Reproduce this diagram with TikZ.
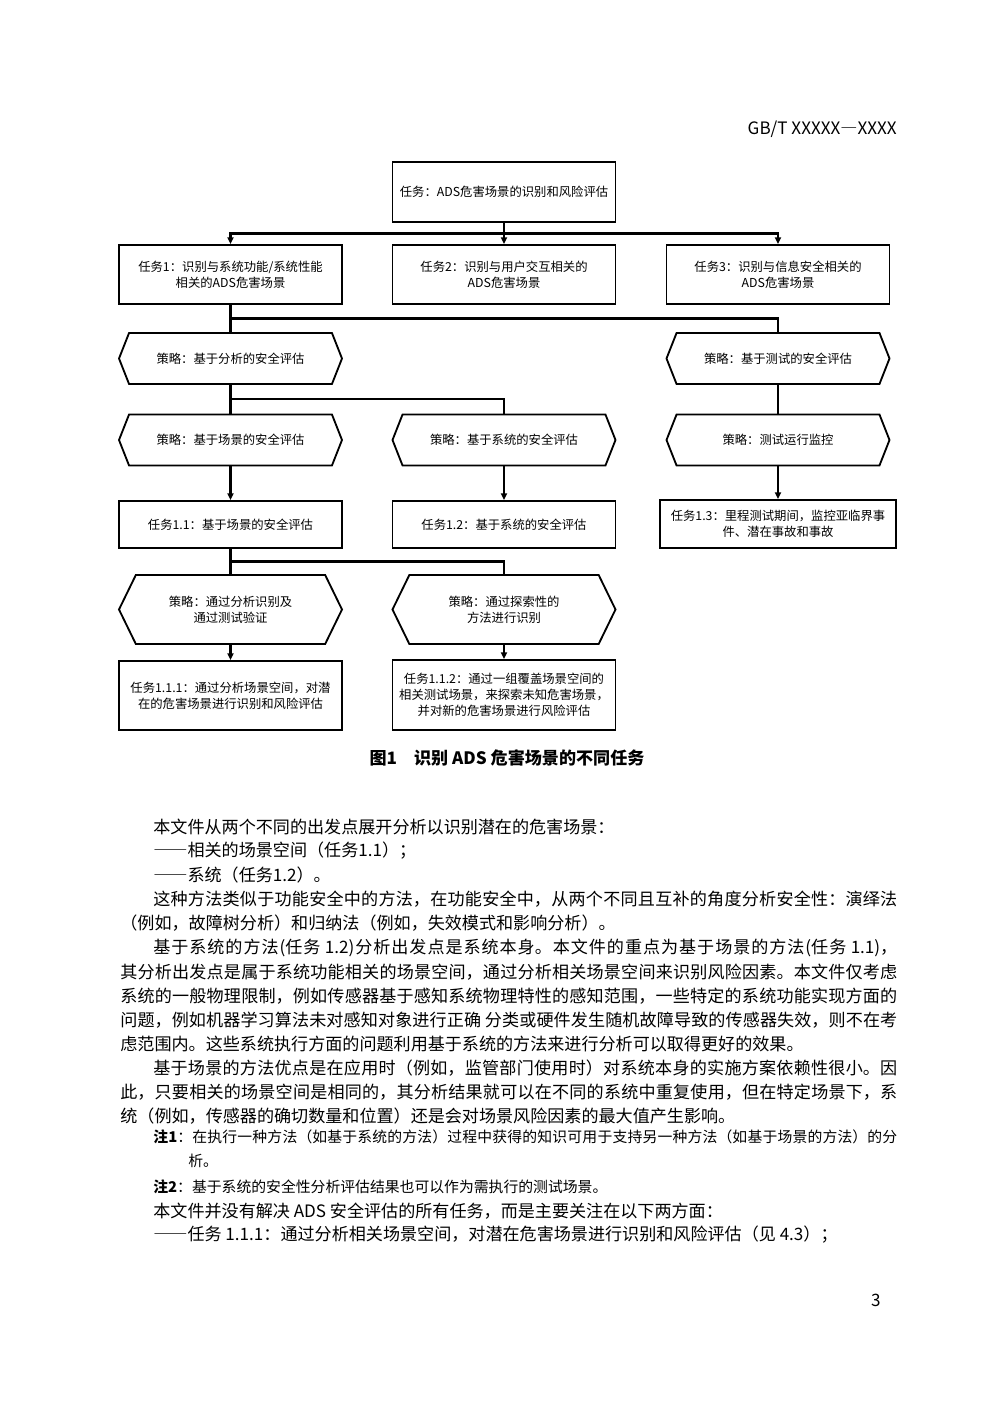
\documentclass[tikz,border=0pt]{standalone}
\usepackage{fontspec}
\setmainfont{Noto Sans CJK SC}
\newfontfamily\fullwidth[CharacterWidth=Full]{Noto Sans CJK SC}
\usetikzlibrary{shapes.symbols,arrows.meta}
\XeTeXlinebreaklocale "zh"
\XeTeXlinebreakskip=0pt plus 2pt minus 0.1pt
\newcommand{\spreadline}[1]{\parfillskip=0pt\relax #1\par}
\newcommand{\dashes}{{\fullwidth ——}}

\begin{document}
\begin{tikzpicture}[x=0.6pt, y=-0.6pt,
    taskbox/.style={draw, line width=1.1pt, minimum width=133.8pt, align=center,
        inner sep=2pt, font=\fontsize{7.4}{9.6}\selectfont},
    strategy/.style={draw, line width=1.1pt, signal, signal to=west and east,
        signal pointer angle=137, minimum width=133.8pt, align=center,
        inner sep=2pt, font=\fontsize{7.4}{9.6}\selectfont},
    link/.style={line width=1.3pt},
    arrowlink/.style={link, -{Triangle[length=4pt,width=3.6pt]}},
    bodytext/.style={anchor=west, inner sep=0pt, font=\fontsize{10.25}{12}\selectfont},
    fullline/.style={bodytext, text width=#1, align=justify},
    notetext/.style={anchor=west, inner sep=0pt, font=\fontsize{8.9}{11}\selectfont},
    fullnote/.style={notetext, text width=#1, align=justify}]

    % page
    \fill[white] (0,0) rectangle (992,1403);
    \useasboundingbox (0,0) rectangle (992,1403);

    % header
    \node[bodytext, anchor=east] (head) at (897,129) {GB/T XXXXX{\fullwidth —}XXXX};

    % Task boxes
    \node[taskbox, minimum height=36pt] (top) at (504,192) {任务：ADS危害场景的识别和风险评估};
    \node[taskbox, minimum height=35.4pt] (t1) at (230.5,274.5) {任务1：识别与系统功能/系统性能\\相关的ADS危害场景};
    \node[taskbox, minimum height=35.4pt] (t2) at (504,274.5) {任务2：识别与用户交互相关的\\ADS危害场景};
    \node[taskbox, minimum height=35.4pt] (t3) at (778,274.5) {任务3：识别与信息安全相关的\\ADS危害场景};

    % Strategies
    \node[strategy, minimum height=30.6pt] (s1) at (230.5,358.5) {策略：基于分析的安全评估};
    \node[strategy, minimum height=30.6pt] (s2) at (778,358.5) {策略：基于测试的安全评估};
    \node[strategy, minimum height=30.6pt] (s11) at (230.5,440) {策略：基于场景的安全评估};
    \node[strategy, minimum height=30.6pt] (s12) at (504,440) {策略：基于系统的安全评估};
    \node[strategy, minimum height=30.6pt] (s13) at (778,440) {策略：测试运行监控};

    % Sub tasks
    \node[taskbox, minimum height=28.2pt] (t11) at (230.5,524.5) {任务1.1：基于场景的安全评估};
    \node[taskbox, minimum height=28.2pt] (t12) at (504,524.5) {任务1.2：基于系统的安全评估};
    \node[taskbox, minimum height=28.8pt, minimum width=141.6pt] (t13) at (778,524) {任务1.3：里程测试期间，监控亚临界事\\件、潜在事故和事故};

    \node[strategy, minimum height=41.4pt, signal pointer angle=128] (s111) at (230.5,609.5) {策略：通过分析识别及\\通过测试验证};
    \node[strategy, minimum height=41.4pt, signal pointer angle=128] (s112) at (504,609.5) {策略：通过探索性的\\方法进行识别};

    \node[taskbox, minimum height=41.4pt] (t111) at (230.5,695.5) {任务1.1.1：通过分析场景空间，对潜\\在的危害场景进行识别和风险评估};
    \node[taskbox, minimum height=42pt] (t112) at (504,695) {任务1.1.2：通过一组覆盖场景空间的\\相关测试场景，来探索未知危害场景，\\并对新的危害场景进行风险评估};

    % Junctions
    \path (top.south) -- (t2.north) coordinate[pos=0.5] (j0);
    \path (t1.south) -- (s1.north) coordinate[pos=0.5] (j1);
    \path (s1.south) -- (s11.north) coordinate[pos=0.5] (j2);
    \path (t11.south) -- (s111.north) coordinate[pos=0.5] (j3);

    % Connectors
    \draw[arrowlink] (top.south) -- (t2.north);
    \draw[arrowlink] (j0) -| (t1.north);
    \draw[arrowlink] (j0) -| (t3.north);
    \draw[link] (t1.south) -- (s1.north);
    \draw[link] (j1) -| (s2.north);
    \draw[link] (s1.south) -- (s11.north);
    \draw[link] (j2) -| (s12.north);
    \draw[link] (s2.south) -- (s13.north);
    \draw[arrowlink] (s11.south) -- (t11.north);
    \draw[arrowlink] (s12.south) -- (t12.north);
    \draw[arrowlink] (s13.south) -- (t13.north);
    \draw[link] (t11.south) -- (s111.north);
    \draw[link] (j3) -| (s112.north);
    \draw[arrowlink] (s111.south) -- (t111.north);
    \draw[arrowlink] (s112.south) -- (t112.north);

    % Caption
    \node[inner sep=0pt, font=\fontsize{10.25}{12}\selectfont\bfseries] (cap) at (507,758) {图1\hspace{1em}识别 ADS 危害场景的不同任务};

    % Body text
    \node[bodytext] (p1) at (153,827) {本文件从两个不同的出发点展开分析以识别潜在的危害场景：};
    \node[bodytext] (p2) at (153,851) {\dashes 相关的场景空间（任务1.1）；};
    \node[bodytext] (p3) at (153,875) {\dashes 系统（任务1.2）。};
    \node[fullline=446.4pt] (p4) at (153,899) {\spreadline{这种方法类似于功能安全中的方法，在功能安全中，从两个不同且互补的角度分析安全性：演绎法}};
    \node[bodytext] (p5) at (120,923) {（例如，故障树分析）和归纳法（例如，失效模式和影响分析）。};
    \node[fullline=446.4pt] (p6) at (153,948) {\spreadline{基于系统的方法(任务 1.2)分析出发点是系统本身。本文件的重点为基于场景的方法(任务 1.1)，}};
    \node[fullline=466.2pt] (p7) at (120,972) {\spreadline{其分析出发点是属于系统功能相关的场景空间，通过分析相关场景空间来识别风险因素。本文件仅考虑}};
    \node[fullline=466.2pt] (p8) at (120,996) {\spreadline{系统的一般物理限制，例如传感器基于感知系统物理特性的感知范围，一些特定的系统功能实现方面的}};
    \node[fullline=466.2pt] (p9) at (120,1020) {\spreadline{问题，例如机器学习算法未对感知对象进行正确 分类或硬件发生随机故障导致的传感器失效，则不在考}};
    \node[bodytext] (p10) at (120,1044) {虑范围内。这些系统执行方面的问题利用基于系统的方法来进行分析可以取得更好的效果。};
    \node[fullline=446.4pt] (p11) at (153,1068) {\spreadline{基于场景的方法优点是在应用时（例如，监管部门使用时）对系统本身的实施方案依赖性很小。因}};
    \node[fullline=466.2pt] (p12) at (120,1092) {\spreadline{此，只要相关的场景空间是相同的，其分析结果就可以在不同的系统中重复使用，但在特定场景下，系}};
    \node[bodytext] (p13) at (120,1116) {统（例如，传感器的确切数量和位置）还是会对场景风险因素的最大值产生影响。};

    % Notes
    \node[fullnote=446.4pt] (n1) at (153,1137) {\spreadline{\textbf{注1}：在执行一种方法（如基于系统的方法）过程中获得的知识可用于支持另一种方法（如基于场景的方法）的分}};
    \node[notetext] (n1b) at (188,1161) {析。};
    \node[notetext] (n2) at (153,1187) {\textbf{注2}：基于系统的安全性分析评估结果也可以作为需执行的测试场景。};

    \node[bodytext] (p14) at (153,1211) {本文件并没有解决 ADS 安全评估的所有任务，而是主要关注在以下两方面：};
    \node[bodytext] (p15) at (153,1235) {\dashes 任务 1.1.1：通过分析相关场景空间，对潜在危害场景进行识别和风险评估（见 4.3）；};

    % page number
    \node[bodytext, anchor=east] (pnum) at (881,1300) {3};
\end{tikzpicture}
\end{document}
